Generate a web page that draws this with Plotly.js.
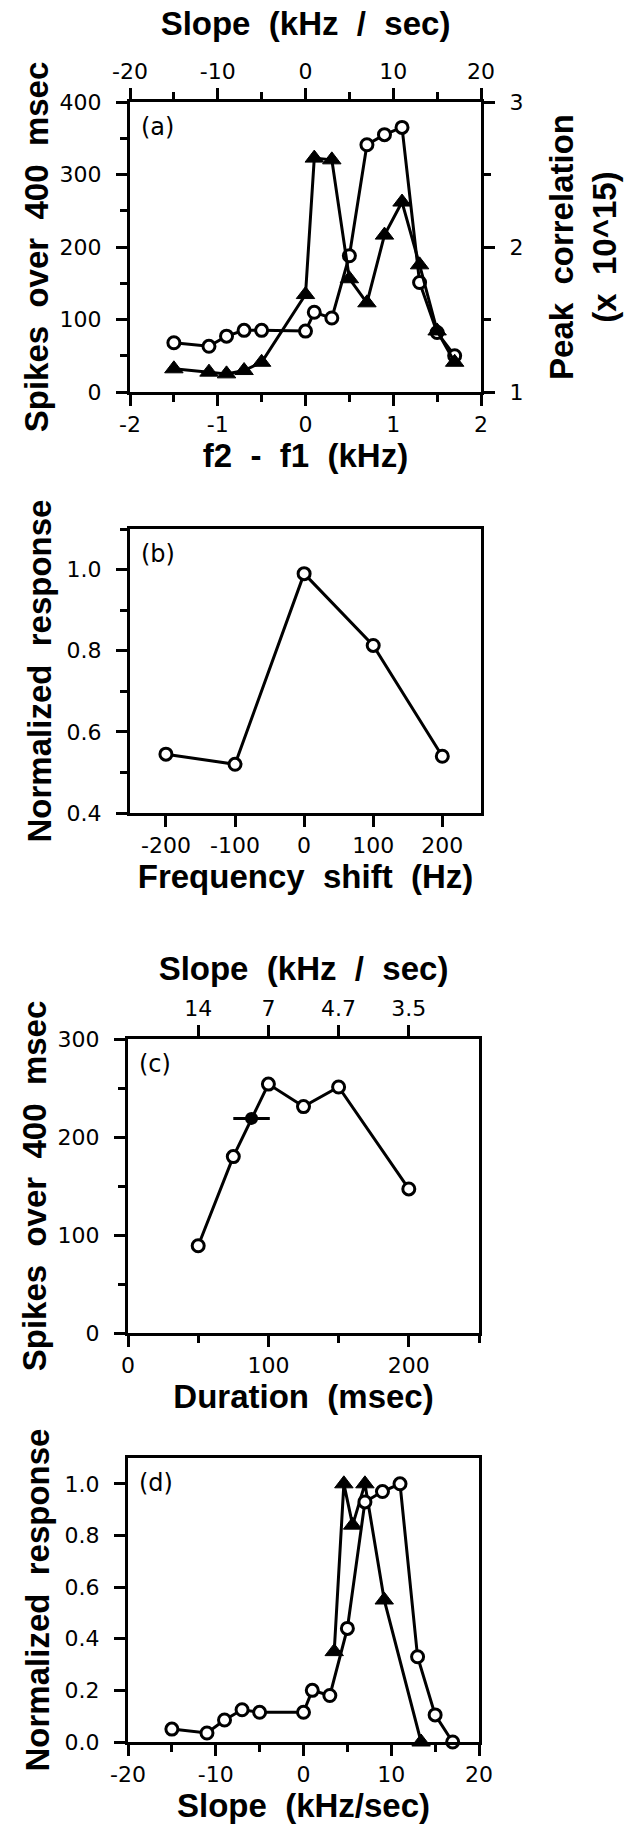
<!DOCTYPE html>
<html><head><meta charset="utf-8">
<script src="https://cdn.plot.ly/plotly-3.0.1.min.js"></script>
<style>html,body{margin:0;padding:0;background:#fff;} #chart{width:626px;height:1824px;}</style>
</head><body><div id="chart"></div>
<script>
// ---------- Panel (a) ----------
const aDiffKHz   = [-1.5,-1.1,-0.9,-0.7,-0.5,0,0.1,0.3,0.5,0.7,0.9,1.1,1.3,1.5,1.7];
const aSpikes    = [68,63,77,85,85,84,110,102,188,341,355,365,151,82,50];
const aPeakCorr  = [1.16,1.137,1.125,1.148,1.205,1.672,2.613,2.601,1.781,1.615,2.082,2.31,1.877,1.421,1.205];
const aKHzTicks  = [-2,-1,0,1,2];
const aKHzText   = ["-2","-1","0","1","2"];
const aSlopeTicks= [-20,-10,0,10,20];
const aSlopeText = ["-20","-10","0","10","20"];
// ---------- Panel (b) ----------
const bShiftHz   = [-200,-100,0,100,200];
const bNormResp  = [0.545,0.52,0.99,0.813,0.54];
const bShiftText = ["-200","-100","0","100","200"];
// ---------- Panel (c) ----------
const cDurationMs = [50,75,100,125,150,200];
const cSpikes     = [89,180,254,231,251,147];
const cFilledDur  = [88];
const cFilledSpk  = [219];
const cFilledErr  = [13];
const cSlopeTickDur  = [50,100,150,200];
const cSlopeTickText = ["14","7","4.7","3.5"];
// ---------- Panel (d) ----------
const dCircleSlope = [-15,-11,-9,-7,-5,0,1,3,5,7,9,11,13,15,17];
const dCircleResp  = [0.05,0.035,0.085,0.125,0.115,0.115,0.2,0.18,0.44,0.93,0.97,1.0,0.33,0.105,0.0];
const dTriSlope    = [3.5,4.6,5.6,7.0,9.2,13.4];
const dTriResp     = [0.35,1.0,0.84,1.0,0.55,0.0];
const dSlopeTicks  = [-20,-10,0,10,20];
const dSlopeText   = ["-20","-10","0","10","20"];

const FAM  = 'Liberation Sans, Arial, Helvetica, sans-serif';
const TFAM = 'DejaVu Sans, Liberation Sans, sans-serif';
const TF  = {family:TFAM, size:22, color:'#000'};
const TTF = {family:FAM, size:33, color:'#000', weight:700};
const LW = 3;

function ax(o){
  return Object.assign({showgrid:false, zeroline:false, showline:true, linecolor:'#000', linewidth:LW,
    ticks:'outside', ticklen:11, tickwidth:LW, tickcolor:'#000', tickfont:TF, fixedrange:true}, o);
}
function minor(d, t0){ return {dtick:d, tick0:t0||0, ticks:'outside', ticklen:7, tickwidth:LW, tickcolor:'#000'}; }

const openCircle = {symbol:'circle', size:12, color:'#fff', line:{color:'#000', width:LW}};
const triangle   = {symbol:'triangle-up', size:16, color:'#000', line:{color:'#000', width:1}};
const lineStyle  = {color:'#000', width:LW};

const XA = [130/626, 481/626];
const XC = [128/626, 479/626];

const traces = [
  // empty helper traces so the secondary (top) slope axes are created and drawn
  {x:[], y:[], xaxis:'x2', yaxis:'y', type:'scatter', mode:'markers', hoverinfo:'skip'},
  {x:[], y:[], xaxis:'x5', yaxis:'y4', type:'scatter', mode:'markers', hoverinfo:'skip'},
  {x:aDiffKHz, y:aPeakCorr, xaxis:'x', yaxis:'y2', mode:'lines+markers', line:lineStyle, marker:triangle, cliponaxis:false},
  {x:aDiffKHz, y:aSpikes, xaxis:'x', yaxis:'y', mode:'lines+markers', line:lineStyle, marker:openCircle, cliponaxis:false},
  {x:bShiftHz, y:bNormResp, xaxis:'x3', yaxis:'y3', mode:'lines+markers', line:lineStyle, marker:openCircle, cliponaxis:false},
  {x:cDurationMs, y:cSpikes, xaxis:'x4', yaxis:'y4', mode:'lines+markers', line:lineStyle, marker:openCircle, cliponaxis:false},
  {x:cFilledDur, y:cFilledSpk, xaxis:'x4', yaxis:'y4', mode:'markers',
   marker:{symbol:'circle', size:13, color:'#000'},
   error_x:{type:'data', array:cFilledErr, color:'#000', thickness:LW, width:0}, cliponaxis:false},
  {x:dTriSlope, y:dTriResp, xaxis:'x6', yaxis:'y6', mode:'lines+markers', line:lineStyle, marker:triangle, cliponaxis:false},
  {x:dCircleSlope, y:dCircleResp, xaxis:'x6', yaxis:'y6', mode:'lines+markers', line:lineStyle, marker:openCircle, cliponaxis:false}
];

const layout = {
  width:626, height:1824, autosize:false, showlegend:false,
  margin:{l:0, r:0, t:0, b:0}, paper_bgcolor:'#fff', plot_bgcolor:'rgba(0,0,0,0)',
  font:{family:FAM, color:'#000'},
  // panel (a)
  xaxis: ax({domain:XA, anchor:'y', range:[-2,2], tickmode:'array', tickvals:aKHzTicks, ticktext:aKHzText,
    minor:minor(0.5,0), title:{text:'f2  -  f1  (kHz)', font:TTF, standoff:0}}),
  xaxis2: ax({overlaying:'x', anchor:'y', side:'top', range:[-20,20], tickmode:'array', tickvals:aSlopeTicks, ticktext:aSlopeText,
    minor:minor(5,0), title:{text:'Slope  (kHz  /  sec)', font:TTF, standoff:14}}),
  yaxis: ax({domain:[1-392/1824, 1-102/1824], anchor:'x', range:[0,400], dtick:100, tick0:0, ticklabelstandoff:10,
    minor:minor(50,0), title:{text:'Spikes  over  400  msec', font:TTF, standoff:2}}),
  yaxis2: ax({overlaying:'y', anchor:'x', side:'right', range:[1,3], dtick:1, tick0:1, ticklabelstandoff:10,
    minor:minor(0.5,1), title:{text:'Peak  correlation<br>(x  10^15)', font:TTF, standoff:28}}),
  // panel (b)
  xaxis3: ax({domain:XA, anchor:'y3', range:[-252,256], tickmode:'array', tickvals:bShiftHz, ticktext:bShiftText, mirror:true,
    title:{text:'Frequency  shift  (Hz)', font:TTF, standoff:2}}),
  yaxis3: ax({domain:[1-813/1824, 1-529/1824], anchor:'x3', range:[0.4,1.1], dtick:0.2, tick0:0.4, tickformat:'.1f', mirror:true,
    ticklabelstandoff:10, minor:minor(0.1,0.4), title:{text:'Normalized  response', font:TTF, standoff:6}}),
  // panel (c)
  xaxis4: ax({domain:XC, anchor:'y4', range:[0,250], dtick:100, tick0:0, minor:minor(50,0),
    title:{text:'Duration  (msec)', font:TTF, standoff:2}}),
  xaxis5: ax({overlaying:'x4', anchor:'y4', side:'top', range:[0,250], tickmode:'array',
    tickvals:cSlopeTickDur, ticktext:cSlopeTickText, title:{text:'Slope  (kHz  /  sec)', font:TTF, standoff:6}}),
  yaxis4: ax({domain:[1-1333/1824, 1-1039/1824], anchor:'x4', range:[0,300], dtick:100, tick0:0, mirror:true,
    ticklabelstandoff:10, minor:minor(50,0), title:{text:'Spikes  over  400  msec', font:TTF, standoff:2}}),
  // panel (d)
  xaxis6: ax({domain:XC, anchor:'y6', range:[-20,20], tickmode:'array', tickvals:dSlopeTicks, ticktext:dSlopeText, mirror:true,
    minor:minor(5,0), title:{text:'Slope  (kHz/sec)', font:TTF, standoff:2}}),
  yaxis6: ax({domain:[1-1742/1824, 1-1458/1824], anchor:'x6', range:[0,1.1], dtick:0.2, tick0:0, tickformat:'.1f', mirror:true,
    ticklabelstandoff:10, title:{text:'Normalized  response', font:TTF, standoff:6}}),
  annotations:[
    {text:'(a)', xref:'x domain', yref:'y domain', x:0.025, y:0.97, xanchor:'left', yanchor:'top', showarrow:false, font:{family:TFAM, size:24, color:'#000'}},
    {text:'(b)', xref:'x3 domain', yref:'y3 domain', x:0.025, y:0.97, xanchor:'left', yanchor:'top', showarrow:false, font:{family:TFAM, size:24, color:'#000'}},
    {text:'(c)', xref:'x4 domain', yref:'y4 domain', x:0.025, y:0.97, xanchor:'left', yanchor:'top', showarrow:false, font:{family:TFAM, size:24, color:'#000'}},
    {text:'(d)', xref:'x6 domain', yref:'y6 domain', x:0.025, y:0.97, xanchor:'left', yanchor:'top', showarrow:false, font:{family:TFAM, size:24, color:'#000'}}
  ]
};

Plotly.newPlot('chart', traces, layout, {staticPlot:true, displayModeBar:false});
</script>
</body></html>
